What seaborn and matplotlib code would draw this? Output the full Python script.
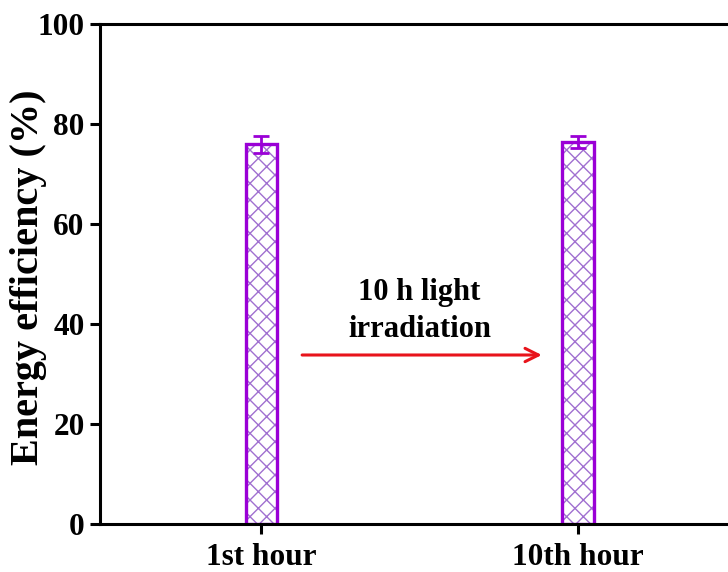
import matplotlib
matplotlib.use("Agg")
import matplotlib.pyplot as plt
import seaborn as sns
import pandas as pd

categories = ["1st hour", "10th hour"]
efficiency = [76.0, 76.5]
errors = [1.7, 1.2]
yticks = [0, 20, 40, 60, 80, 100]

sns.set_theme(style="ticks")
plt.rcParams["font.family"] = ["Liberation Serif", "DejaVu Serif"]
plt.rcParams["font.weight"] = "bold"
plt.rcParams["hatch.linewidth"] = 1.0
plt.rcParams["text.color"] = "black"
plt.rcParams["axes.labelcolor"] = "black"
plt.rcParams["xtick.color"] = "black"
plt.rcParams["ytick.color"] = "black"

purple = "#9A00D6"
df = pd.DataFrame({"cat": categories, "val": efficiency})

fig = plt.figure(figsize=(7.28, 5.72), dpi=100)
ax = fig.add_axes([100/728, 48/572, (736-100)/728, 500/572])

sns.barplot(data=df, x="cat", y="val", ax=ax, width=0.1, color="white",
            edgecolor=purple, linewidth=2.4, errorbar=None)
for p in ax.patches:
    p.set_hatch("xx")
    p.set_facecolor("white")
    p.set_edgecolor(purple)
    p._hatch_color = matplotlib.colors.to_rgba("#A070D0")

ax.errorbar(categories, efficiency, yerr=errors, fmt="none", ecolor=purple,
            elinewidth=2, capsize=6, capthick=2, zorder=5)

ax.set_xlim(-0.51, 1.5)
ax.set_ylim(0, 100)
ax.set_yticks(yticks)
ax.set_xlabel("")
ax.set_ylabel("Energy efficiency (%)", fontsize=29, fontweight="bold")
ax.yaxis.set_label_coords(-0.083, 0.493)
ax.tick_params(axis="both", direction="out", length=7, width=2.2, labelsize=22.5,
               pad=4, colors="black")
ax.tick_params(axis="x", pad=7)
for lab in ax.get_xticklabels() + ax.get_yticklabels():
    lab.set_fontweight("bold")
for s in ax.spines.values():
    s.set_linewidth(2.2)
    s.set_color("black")

ax.annotate("", xy=(0.895, 33.8), xytext=(0.12, 33.8),
            arrowprops=dict(arrowstyle="->,head_length=0.8,head_width=0.4",
                            color="#E8141B", lw=2.2))
ax.text(0.5, 42.6, "10 h light\nirradiation", ha="center", va="center",
        fontsize=22, fontweight="bold", linespacing=1.4, color="black")

fig.savefig("out.png", dpi=100)
